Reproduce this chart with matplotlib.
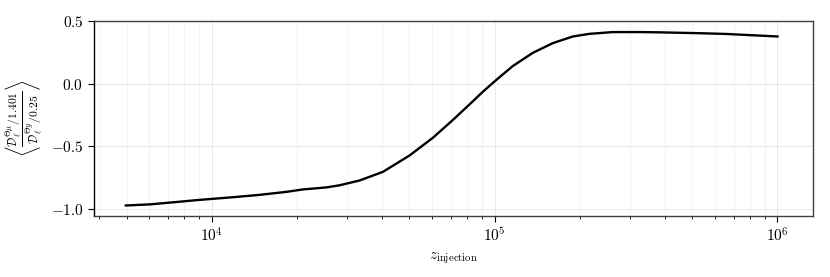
import numpy as np
import matplotlib
matplotlib.use("Agg")
import matplotlib.pyplot as plt

# values
z_inj = [4.97e3, 6.04e3, 7.1e3, 9.07e3, 1.16e4, 1.48e4, 1.84e4, 2.1e4, 2.54e4,
         2.83e4, 3.33e4, 4.03e4, 5.01e4, 6.05e4, 7.12e4, 8.3e4, 9.1e4, 1.014e5,
         1.161e5, 1.366e5, 1.607e5, 1.891e5, 2.166e5, 2.618e5, 3.253e5, 3.83e5,
         5.3e5, 6.59e5, 1.0e6]
ratio = [-0.971, -0.962, -0.948, -0.926, -0.907, -0.886, -0.862, -0.843, -0.827,
         -0.810, -0.772, -0.703, -0.572, -0.432, -0.290, -0.150, -0.064, 0.029,
         0.140, 0.245, 0.322, 0.375, 0.396, 0.410, 0.410, 0.408,
         0.401, 0.395, 0.375]

plt.rcParams['font.family'] = 'serif'
plt.rcParams['font.serif'] = ['cmr10']
plt.rcParams['mathtext.fontset'] = 'cm'
plt.rcParams['axes.formatter.use_mathtext'] = True
plt.rcParams['font.size'] = 11

fig, ax = plt.subplots(figsize=(8.3, 2.77), dpi=100)
fig.subplots_adjust(left=0.113, right=0.98, top=0.925, bottom=0.22)

ax.plot(z_inj, ratio, color='black', linewidth=1.7)
ax.set_xscale('log')
ax.set_xlim(3.83e3, 1.34e6)
ax.set_ylim(-1.055, 0.5)
ax.set_yticks([-1.0, -0.5, 0.0, 0.5])

ax.grid(True, which='major', color='#e4e4e4', linewidth=0.6)
ax.grid(True, which='minor', axis='x', color='#eeeeee', linewidth=0.5)
ax.set_axisbelow(True)

for s in ax.spines.values():
    s.set_color('0.25')
    s.set_linewidth(1.0)
ax.spines['left'].set_color('black')

ax.tick_params(which='major', direction='out', length=4)
ax.tick_params(which='minor', direction='out', length=2.5)

ax.set_xlabel(r'$z_{\mathrm{injection}}$')
ax.set_ylabel(r'$\left\langle \frac{\mathcal{D}_\ell^{\Theta\mu}/1.401}{\mathcal{D}_\ell^{\Theta y}/0.25} \right\rangle$',
              fontsize=12, labelpad=4)

fig.savefig('out.png')
